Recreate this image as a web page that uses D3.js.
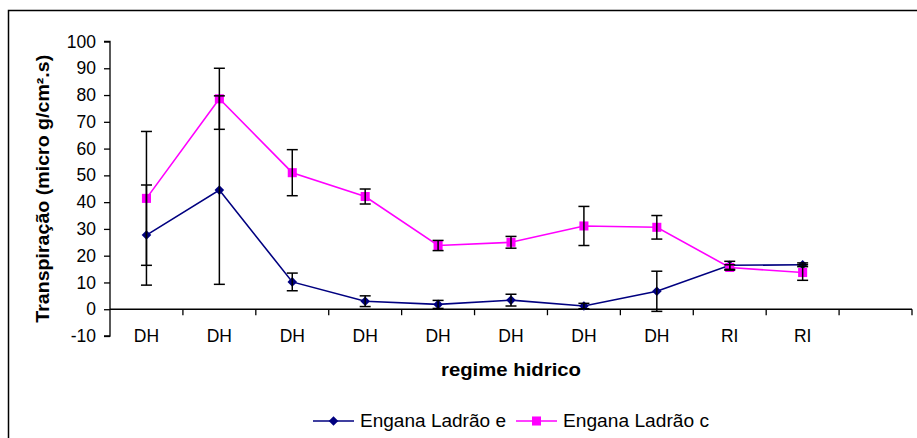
<!DOCTYPE html>
<html>
<head>
<meta charset="utf-8">
<script src="https://cdn.jsdelivr.net/npm/d3@7"></script>
<style>
  body { margin: 0; background: #fff; }
  svg { display: block; font-family: "Liberation Sans", Arial, sans-serif; }
</style>
</head>
<body>
<svg id="chart" width="917" height="438"></svg>
<script>
// ---- data ----
const categories = ["DH", "DH", "DH", "DH", "DH", "DH", "DH", "DH", "RI", "RI", ""];
const seriesNames = ["Engana Ladrão e", "Engana Ladrão c"];
const valuesE = [27.7, 44.5, 10.2, 3.0, 1.8, 3.4, 1.2, 6.7, 16.4, 16.6];
const errorsE = [18.7, 35.2, 3.3, 2.0, 1.5, 2.2, 1.0, 7.5, 1.5, 0.7];
const valuesC = [41.4, 78.6, 51.0, 42.1, 23.8, 25.0, 31.1, 30.6, 15.6, 13.7];
const errorsC = [25.0, 11.4, 8.6, 2.8, 1.9, 2.2, 7.3, 4.4, 1.0, 2.9];
const yTicks = [-10, 0, 10, 20, 30, 40, 50, 60, 70, 80, 90, 100];
const yTitle = "Transpiração (micro g/cm².s)";
const xTitle = "regime hidrico";

(function () {
const svg = d3.select("#chart");

// frame
svg.append("rect").attr("x", 8.5).attr("y", 10.5).attr("width", 920).attr("height", 440)
  .attr("fill", "none").attr("stroke", "#000").attr("stroke-width", 1.5);

const pLeft = 110, pRight = 912, pTop = 41.5, pBottom = 336;
const x = d3.scaleBand().domain(d3.range(categories.length)).range([pLeft, pRight]);
const y = d3.scaleLinear().domain([-10, 100]).range([pBottom, pTop]);

// y axis
const yAxis = svg.append("g").attr("transform", `translate(${pLeft},0)`)
  .call(d3.axisLeft(y).tickValues(yTicks).tickSize(6).tickPadding(8).tickFormat(d => String(d)));
yAxis.attr("font-family", null).attr("font-size", null);
yAxis.select(".domain").attr("stroke", "#000").attr("stroke-width", 1.3).attr("d", `M-6,${pBottom}H0V${pTop}H-6`);
yAxis.selectAll(".tick line").attr("stroke", "#000").attr("stroke-width", 1.3);
yAxis.selectAll(".tick text").attr("font-size", 17.5).attr("fill", "#000");

// x axis at y=0
const x0 = y(0);
const xAxisG = svg.append("g").attr("transform", `translate(0,${x0})`);
xAxisG.append("line").attr("x1", pLeft).attr("x2", pRight).attr("y1", 0).attr("y2", 0)
  .attr("stroke", "#000").attr("stroke-width", 1.3);
const boundaries = d3.range(categories.length + 1).map(i => i < categories.length ? x(i) : pRight);
xAxisG.selectAll("line.tk").data(boundaries.slice(1)).join("line").attr("class", "tk")
  .attr("x1", d => d).attr("x2", d => d).attr("y1", 0).attr("y2", 6)
  .attr("stroke", "#000").attr("stroke-width", 1.3);
svg.append("g").selectAll("text").data(categories).join("text")
  .attr("x", (d, i) => x(i) + x.bandwidth() / 2)
  .attr("y", y(-10)).attr("dy", "0.35em")
  .attr("text-anchor", "middle").attr("font-size", 17.5).attr("fill", "#000")
  .text(d => d);

// titles
svg.append("text").attr("x", (pLeft + pRight) / 2).attr("y", 370).attr("dy", "0.35em")
  .attr("text-anchor", "middle").attr("font-size", 18).attr("font-weight", "bold")
  .attr("textLength", 140).attr("lengthAdjust", "spacingAndGlyphs").text(xTitle);
svg.append("text").attr("transform", `translate(43,${(pTop + pBottom) / 2}) rotate(-90)`)
  .attr("dy", "0.35em").attr("text-anchor", "middle").attr("font-size", 18).attr("font-weight", "bold")
  .attr("textLength", 268).attr("lengthAdjust", "spacingAndGlyphs").text(yTitle);

const series = [
  { name: seriesNames[0], values: valuesE, errors: errorsE, color: "#000080", shape: d3.symbolSquare, size: 46, rot: 45 },
  { name: seriesNames[1], values: valuesC, errors: errorsC, color: "#FF00FF", shape: d3.symbolSquare, size: 82, rot: 0 }
];

const line = d3.line().x((d, i) => x(i) + x.bandwidth() / 2).y(d => y(d));

series.forEach(s => {
  svg.append("path").attr("d", line(s.values)).attr("fill", "none")
    .attr("stroke", s.color).attr("stroke-width", 1.6);
});
series.forEach(s => {
  svg.append("g").selectAll("path").data(s.values).join("path")
    .attr("d", d3.symbol().type(s.shape).size(s.size))
    .attr("transform", (d, i) => `translate(${x(i) + x.bandwidth() / 2},${y(d)}) rotate(${s.rot})`)
    .attr("fill", s.color);
});
// error bars
series.forEach(s => {
  const g = svg.append("g").attr("stroke", "#000").attr("stroke-width", 1.5);
  s.values.forEach((v, i) => {
    const cx = x(i) + x.bandwidth() / 2;
    const hi = y(v + s.errors[i]), lo = y(v - s.errors[i]);
    g.append("line").attr("x1", cx).attr("x2", cx).attr("y1", hi).attr("y2", lo);
    g.append("line").attr("x1", cx - 5.5).attr("x2", cx + 5.5).attr("y1", hi).attr("y2", hi);
    g.append("line").attr("x1", cx - 5.5).attr("x2", cx + 5.5).attr("y1", lo).attr("y2", lo);
  });
});

// legend
const legendItems = [
  { s: series[0], x1: 313, textX: 360 },
  { s: series[1], x1: 516, textX: 563 }
];
legendItems.forEach(it => {
  const ly = 421;
  svg.append("line").attr("x1", it.x1).attr("x2", it.x1 + 41).attr("y1", ly).attr("y2", ly)
    .attr("stroke", it.s.color).attr("stroke-width", 1.6);
  svg.append("path").attr("d", d3.symbol().type(it.s.shape).size(it.s.size))
    .attr("transform", `translate(${it.x1 + 20.5},${ly}) rotate(${it.s.rot})`).attr("fill", it.s.color);
  svg.append("text").attr("x", it.textX).attr("y", ly).attr("dy", "0.35em")
    .attr("font-size", 17.5).attr("fill", "#000")
    .attr("textLength", 146).attr("lengthAdjust", "spacingAndGlyphs").text(it.s.name);
});
})();
</script>
</body>
</html>
